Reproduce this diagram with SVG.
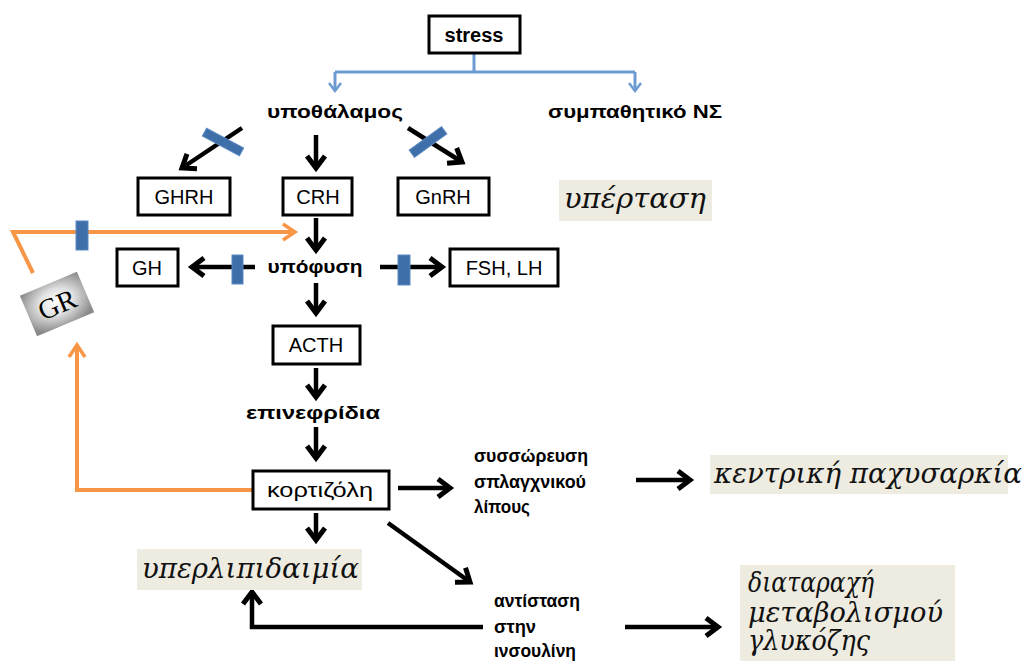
<svg xmlns="http://www.w3.org/2000/svg" width="1026" height="661" viewBox="0 0 1026 661">
<style>
.box{fill:#fff;stroke:#000;stroke-width:3}
.beige{fill:#EEECE1}
.lbl{font-family:"Liberation Sans",Arial,sans-serif;font-size:20px;text-anchor:middle;fill:#000}
.gk{font-family:"Liberation Sans",Arial,sans-serif;font-size:19px;font-weight:bold;fill:#000}
.mid{text-anchor:middle}
.it{font-family:"DejaVu Serif","Liberation Serif",serif;font-style:italic;font-size:27px;fill:#111}
.ar{fill:none;stroke:#000;stroke-width:4.5}
.bl{fill:none;stroke:#6C9BD2;stroke-width:3}
.or{fill:none;stroke:#F79646;stroke-width:4}
.bar{fill:#3F6FA8;stroke:#5B8AC4;stroke-width:1}
</style>
<defs>
<marker id="ab" viewBox="0 0 22 22" markerWidth="22" markerHeight="22" markerUnits="userSpaceOnUse" refX="17" refY="11" orient="auto">
<path d="M5,2 L17,11 L5,20" fill="none" stroke="#000" stroke-width="5"/>
</marker>
<marker id="abl" viewBox="0 0 14 14" markerWidth="14" markerHeight="14" markerUnits="userSpaceOnUse" refX="11" refY="7" orient="auto">
<path d="M3,1 L11,7 L3,13" fill="none" stroke="#6C9BD2" stroke-width="2.5"/>
</marker>
<marker id="aor" viewBox="0 0 20 20" markerWidth="20" markerHeight="20" markerUnits="userSpaceOnUse" refX="16" refY="10" orient="auto">
<path d="M4,2 L16,10 L4,18" fill="none" stroke="#F79646" stroke-width="3.5"/>
</marker>
<radialGradient id="grg" cx="50%" cy="45%" r="65%">
<stop offset="0" stop-color="#ffffff"/>
<stop offset="0.45" stop-color="#e0e0e0"/>
<stop offset="1" stop-color="#8a8a8a"/>
</radialGradient>
</defs>

<g id="connectors">
<path class="bl" d="M474,53 L474,72 M335,72 L635,72"/>
<path class="bl" d="M335,72 L335,91" marker-end="url(#abl)"/>
<path class="bl" d="M635,72 L635,91" marker-end="url(#abl)"/>
<path class="ar" d="M242,128 L182,168" marker-end="url(#ab)"/>
<path class="ar" d="M316,135 L316,168" marker-end="url(#ab)"/>
<path class="ar" d="M408,128 L462,162" marker-end="url(#ab)"/>
<path class="ar" d="M316,218 L316,250" marker-end="url(#ab)"/>
<path class="ar" d="M255,267 L192,267" marker-end="url(#ab)"/>
<path class="ar" d="M380,267 L442,267" marker-end="url(#ab)"/>
<path class="ar" d="M316,283 L316,313" marker-end="url(#ab)"/>
<path class="ar" d="M316,368 L316,397" marker-end="url(#ab)"/>
<path class="ar" d="M316,427 L316,458" marker-end="url(#ab)"/>
<path class="ar" d="M398,488 L450,488" marker-end="url(#ab)"/>
<path class="ar" d="M636,480 L690,480" marker-end="url(#ab)"/>
<path class="ar" d="M316,513 L316,540" marker-end="url(#ab)"/>
<path class="ar" d="M388,523 L470,582" marker-end="url(#ab)"/>
<path class="ar" d="M483,627 L252,627 L252,592" marker-end="url(#ab)"/>
<path class="ar" d="M625,627 L718,627" marker-end="url(#ab)"/>
<path class="or" d="M33,273 L13,232 L295,232" marker-end="url(#aor)"/>
<path class="or" d="M252,490 L77,490 L77,345" marker-end="url(#aor)"/>
<rect class="bar" x="-21" y="-4.5" width="42" height="9" transform="translate(223,142) rotate(28)"/>
<rect class="bar" x="-20" y="-4.5" width="40" height="9" transform="translate(428,142) rotate(-36)"/>
<rect class="bar" x="76" y="221" width="12" height="29"/>
<rect class="bar" x="232" y="255" width="11" height="29"/>
<rect class="bar" x="398" y="255" width="12" height="30"/>
</g>

<g id="stress">
<rect class="box" x="429" y="16" width="91" height="37"/>
<text class="lbl" x="474" y="42" font-weight="bold" font-size="21">stress</text>
</g>
<g id="hypothalamus">
<text class="gk mid" x="335" y="118" textLength="136" lengthAdjust="spacingAndGlyphs">υποθάλαμος</text>
</g>
<g id="sympathetic">
<text class="gk mid" x="635" y="118" textLength="174" lengthAdjust="spacingAndGlyphs">συμπαθητικό ΝΣ</text>
</g>
<g id="ghrh">
<rect class="box" x="138" y="178" width="92" height="37"/>
<text class="lbl" x="184" y="204">GHRH</text>
</g>
<g id="crh">
<rect class="box" x="283" y="178" width="69" height="37"/>
<text class="lbl" x="318" y="204">CRH</text>
</g>
<g id="gnrh">
<rect class="box" x="398" y="178" width="91" height="37"/>
<text class="lbl" x="443" y="204">GnRH</text>
</g>
<g id="hypertension">
<rect class="beige" x="559" y="180" width="153" height="41"/>
<text class="it" x="564" y="208" textLength="142" lengthAdjust="spacingAndGlyphs">υπέρταση</text>
</g>
<g id="gh">
<rect class="box" x="117" y="249" width="61" height="37"/>
<text class="lbl" x="147" y="275">GH</text>
</g>
<g id="pituitary">
<text class="gk mid" x="315" y="273" textLength="95" lengthAdjust="spacingAndGlyphs">υπόφυση</text>
</g>
<g id="fshlh">
<rect class="box" x="450" y="249" width="108" height="37"/>
<text class="lbl" x="504" y="275">FSH, LH</text>
</g>
<g id="gr">
<g transform="translate(57,304) rotate(-23)">
<rect x="-31" y="-22" width="62" height="44" fill="url(#grg)"/>
<text x="0" y="10" text-anchor="middle" font-family="Liberation Serif,'Times New Roman',serif" font-size="28" fill="#000">GR</text>
</g>
</g>
<g id="acth">
<rect class="box" x="273" y="326" width="87" height="38"/>
<text class="lbl" x="316" y="352">ACTH</text>
</g>
<g id="adrenals">
<text class="gk mid" x="313" y="419" textLength="134" lengthAdjust="spacingAndGlyphs">επινεφρίδια</text>
</g>
<g id="cortisol">
<rect class="box" x="253" y="471" width="136" height="38"/>
<text class="lbl" x="320" y="497" textLength="106" lengthAdjust="spacingAndGlyphs">κορτιζόλη</text>
</g>
<g id="visceral">
<text class="gk" x="474" y="462" textLength="114" lengthAdjust="spacingAndGlyphs">συσσώρευση</text>
<text class="gk" x="474" y="488" textLength="112" lengthAdjust="spacingAndGlyphs">σπλαγχνικού</text>
<text class="gk" x="474" y="513" textLength="56" lengthAdjust="spacingAndGlyphs">λίπους</text>
</g>
<g id="obesity">
<rect class="beige" x="710" y="455" width="298" height="39"/>
<text class="it" x="714" y="483" textLength="308" lengthAdjust="spacingAndGlyphs">κεντρική παχυσαρκία</text>
</g>
<g id="hyperlipidemia">
<rect class="beige" x="137" y="549" width="225" height="41"/>
<text class="it" x="142" y="578" textLength="217" lengthAdjust="spacingAndGlyphs">υπερλιπιδαιμία</text>
</g>
<g id="insulin">
<text class="gk" x="494" y="607" textLength="86" lengthAdjust="spacingAndGlyphs">αντίσταση</text>
<text class="gk" x="494" y="633" textLength="42" lengthAdjust="spacingAndGlyphs">στην</text>
<text class="gk" x="494" y="657" textLength="82" lengthAdjust="spacingAndGlyphs">ινσουλίνη</text>
</g>
<g id="glucose">
<rect class="beige" x="740" y="565" width="215" height="96"/>
<text class="it" x="748" y="592" textLength="126" lengthAdjust="spacingAndGlyphs">διαταραχή</text>
<text class="it" x="748" y="622" textLength="195" lengthAdjust="spacingAndGlyphs">μεταβολισμού</text>
<text class="it" x="748" y="650" textLength="122" lengthAdjust="spacingAndGlyphs">γλυκόζης</text>
</g>
</svg>
